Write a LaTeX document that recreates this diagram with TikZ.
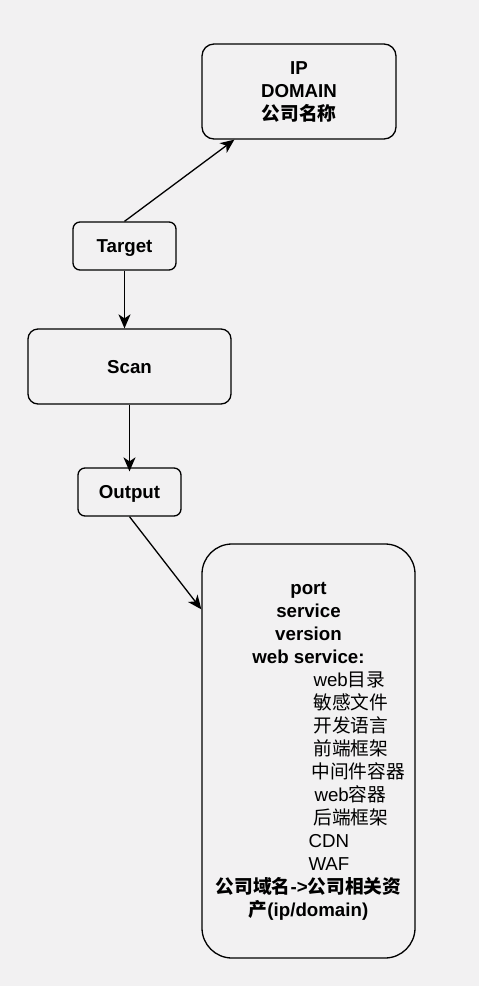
\documentclass[tikz,border=0pt]{standalone}
\usepackage{fontspec}
\setmainfont{Liberation Sans}
\newfontfamily\cjk{Noto Sans CJK SC}
\newcommand\C[1]{{\cjk #1}}
\usetikzlibrary{arrows.meta,calc}
\definecolor{bg}{RGB}{242,241,242}
\tikzset{
  box/.style={draw=black, line width=1.3pt, inner sep=0pt, align=center,
    font=\fontsize{18.7}{23}\selectfont\bfseries},
  onebox/.style={box, text height=13.5pt, text depth=0pt},
  conn/.style={draw=black, line width=1.3pt, -{Stealth[length=14pt,width=12pt,inset=4pt]}}
}
\begin{document}
\begin{tikzpicture}[x=1pt,y=-1pt]
\fill[bg] (0,0) rectangle (479,986);
\useasboundingbox (0,0) rectangle (479,986);
\node[box, rounded corners=12pt, minimum width=194pt, minimum height=95pt] (info) at (299,91.5)
  {IP\\DOMAIN\\\C{公司名称}};
\node[onebox, rounded corners=7pt, minimum width=103pt, minimum height=48pt] (target) at (124.5,246) {Target};
\node[onebox, rounded corners=10pt, minimum width=203pt, minimum height=75pt] (scan) at (129.5,366.5) {Scan};
\node[onebox, rounded corners=7pt, minimum width=103pt, minimum height=48pt] (output) at (129.5,492) {Output};
\node[box, rounded corners=30pt, minimum width=213pt, minimum height=414pt] (result) at (308.5,751)
  {port\\service\\version\\web service:\\
   \mdseries\hspace*{10pt}\rlap{web\C{目录}}\\
   \mdseries\hspace*{10pt}\rlap{\C{敏感文件}}\\
   \mdseries\hspace*{10pt}\rlap{\C{开发语言}}\\
   \mdseries\hspace*{10pt}\rlap{\C{前端框架}}\\
   \mdseries\hspace*{6pt}\rlap{\C{中间件容器}}\\
   \mdseries\hspace*{12pt}\rlap{web\C{容器}}\\
   \mdseries\hspace*{10pt}\rlap{\C{后端框架}}\\
   \mdseries\rlap{CDN}\\
   \mdseries\rlap{WAF}\\
   \C{公司域名}->\C{公司相关资}\\
   \C{产}(ip/domain)};
\draw[conn] (target.north) -- ([xshift=33pt]info.south west);
\draw[conn] (target.south) -- (target.south |- scan.north);
\draw[conn] (scan.south) -- ([yshift=-4pt]output.north);
\draw[conn] (output.south) -- ([yshift=-66pt]result.north west);
\end{tikzpicture}
\end{document}
